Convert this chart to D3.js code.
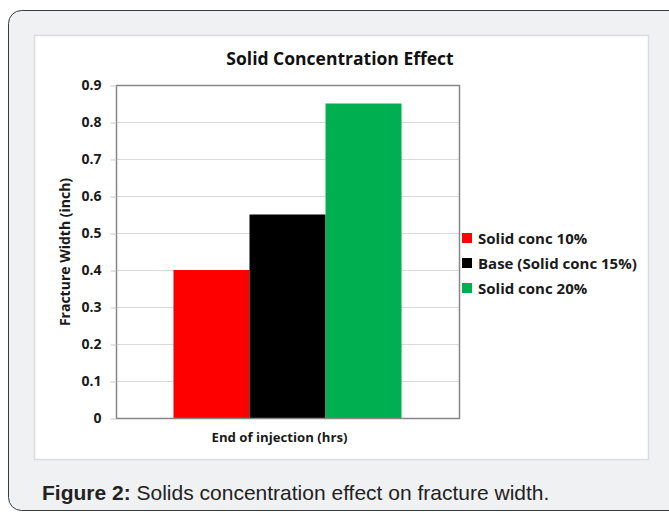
<!DOCTYPE html>
<html>
<head>
<meta charset="utf-8">
<script src="https://cdn.jsdelivr.net/npm/d3@7"></script>
<style>
  html, body { margin: 0; padding: 0; background: #ffffff; }
  svg { display: block; }
</style>
</head>
<body>
<svg id="chart" width="669" height="512"></svg>
<script>
// Fracture width at end of injection for each solid concentration
const categories = ["End of injection (hrs)"];
const seriesNames = ["Solid conc 10%", "Base (Solid conc 15%)", "Solid conc 20%"];
const seriesValues = [0.40, 0.55, 0.85];
const seriesColors = ["#ff0000", "#000000", "#00b050"];
const yTicks = [0, 0.1, 0.2, 0.3, 0.4, 0.5, 0.6, 0.7, 0.8, 0.9];

const svg = d3.select("#chart");
const labelFont = "'Open Sans', Lato, sans-serif";

// Card background with rounded border
svg.append("rect")
  .attr("x", 8.5).attr("y", 10.5)
  .attr("width", 680).attr("height", 500)
  .attr("rx", 13).attr("ry", 13)
  .attr("fill", "#f0f1f3")
  .attr("stroke", "#3a3a3a").attr("stroke-width", 1);

// White chart panel
svg.append("rect")
  .attr("x", 34.5).attr("y", 35.5)
  .attr("width", 614).attr("height", 424)
  .attr("fill", "#ffffff")
  .attr("stroke", "#dcdcdc").attr("stroke-width", 1.5);

const plot = { left: 116, right: 459, top: 85, bottom: 418 };

const y = d3.scaleLinear().domain([0, 0.9]).range([plot.bottom, plot.top]);
const x0 = d3.scaleBand().domain(categories).range([plot.left, plot.right]).paddingInner(0).paddingOuter(0.252);
const x1 = d3.scaleBand().domain(seriesNames).range([0, x0.bandwidth()]).padding(0);

// Gridlines
svg.append("g")
  .selectAll("line")
  .data(yTicks.filter(d => d > 0))
  .join("line")
  .attr("x1", plot.left).attr("x2", plot.right)
  .attr("y1", d => Math.round(y(d)) + 0.5).attr("y2", d => Math.round(y(d)) + 0.5)
  .attr("stroke", "#d9d9d9").attr("stroke-width", 1);

// Bars
const groups = svg.append("g")
  .selectAll("g")
  .data(categories)
  .join("g")
  .attr("transform", d => `translate(${x0(d)},0)`);

groups.selectAll("rect")
  .data(() => seriesNames.map((name, i) => ({ name, value: seriesValues[i], color: seriesColors[i] })))
  .join("rect")
  .attr("x", d => x1(d.name))
  .attr("y", d => y(d.value))
  .attr("width", x1.bandwidth())
  .attr("height", d => y(0) - y(d.value))
  .attr("fill", d => d.color);

// Plot border
svg.append("rect")
  .attr("x", plot.left + 0.5).attr("y", plot.top + 0.5)
  .attr("width", plot.right - plot.left).attr("height", plot.bottom - plot.top)
  .attr("fill", "none")
  .attr("stroke", "#868686").attr("stroke-width", 1.5);

// Y axis
const yAxis = d3.axisLeft(y)
  .tickValues(yTicks)
  .tickFormat(d => d === 0 ? "0" : d3.format(".1f")(d))
  .tickSize(6)
  .tickPadding(9);

const yG = svg.append("g")
  .attr("transform", `translate(${plot.left + 0.5},0.5)`)
  .call(yAxis);
yG.select(".domain").remove();
yG.selectAll(".tick line").attr("stroke", "#c8c8c8");
yG.selectAll(".tick text")
  .attr("font-family", labelFont)
  .attr("font-weight", "bold")
  .attr("font-size", 14)
  .attr("fill", "#1a1a1a");

// Title
svg.append("text")
  .attr("x", 340).attr("y", 65)
  .attr("text-anchor", "middle")
  .attr("font-family", labelFont)
  .attr("font-weight", "bold")
  .attr("font-size", 17.5)
  .attr("fill", "#111")
  .text("Solid Concentration Effect");

// Axis titles
svg.append("text")
  .attr("transform", `translate(70,252) rotate(-90)`)
  .attr("text-anchor", "middle")
  .attr("font-family", labelFont)
  .attr("font-weight", "bold")
  .attr("font-size", 14)
  .attr("fill", "#1a1a1a")
  .text("Fracture Width (inch)");

svg.append("text")
  .attr("x", (plot.left + plot.right) / 2 - 8).attr("y", 442)
  .attr("text-anchor", "middle")
  .attr("font-family", labelFont)
  .attr("font-weight", "bold")
  .attr("font-size", 13.2)
  .attr("fill", "#1a1a1a")
  .text(categories[0]);

// Legend
const legend = svg.append("g")
  .selectAll("g")
  .data(seriesNames)
  .join("g")
  .attr("transform", (d, i) => `translate(462,${238 + i * 25})`);

legend.append("rect")
  .attr("x", 0).attr("y", -5)
  .attr("width", 10).attr("height", 10)
  .attr("fill", (d, i) => seriesColors[i]);

legend.append("text")
  .attr("x", 16).attr("y", 5.5)
  .attr("font-family", labelFont)
  .attr("font-weight", "bold")
  .attr("font-size", 15)
  .attr("fill", "#1a1a1a")
  .text(d => d);

// Caption
const caption = svg.append("text")
  .attr("x", 42).attr("y", 500)
  .attr("font-family", "'Liberation Sans', Arial, sans-serif")
  .attr("font-size", 21)
  .attr("fill", "#222");
caption.append("tspan").attr("font-weight", "bold").text("Figure 2:");
caption.append("tspan").text(" Solids concentration effect on fracture width.");
</script>
</body>
</html>
